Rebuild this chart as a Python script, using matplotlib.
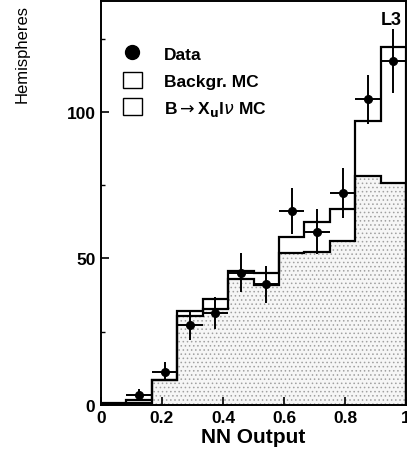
import numpy as np
import matplotlib.pyplot as plt
from matplotlib.lines import Line2D
from matplotlib.patches import Patch

plt.rcParams['font.family'] = ['Liberation Sans', 'DejaVu Sans']
plt.rcParams['hatch.color'] = '#a0a0a0'
plt.rcParams['hatch.linewidth'] = 0.6

# NN output binning (12 bins)
edges = np.linspace(0, 1, 13)
centers = 0.5 * (edges[:-1] + edges[1:])

# shaded MC component and stacked total
bkg_mc = [0, 0.5, 8.6, 30.4, 32.7, 42.9, 41.0, 51.7, 52.3, 56.0, 78.0, 75.9]
total_mc = [0.5, 1.5, 8.6, 32.0, 36.1, 45.6, 45.2, 57.2, 62.3, 66.8, 96.9, 122.2]

# data (bins 2..12)
data = [3.5, 11.3, 27.3, 31.3, 45.2, 41.2, 66.2, 59.1, 72.3, 104.3, 117.4]
data_err = [2.0, 3.3, 5.0, 5.5, 6.6, 6.3, 8.0, 7.7, 8.5, 8.5, 11.0]

fig = plt.figure(figsize=(4.07, 4.56), dpi=100)
ax = fig.add_axes([0.248, 0.110, 0.75, 0.886])

ax.stairs(bkg_mc, edges, fill=True, facecolor='#f6f6f6', hatch='....',
          edgecolor='#a0a0a0', linewidth=0)
ax.stairs(bkg_mc, edges, color='black', linewidth=1.6)
ax.stairs(total_mc, edges, color='black', linewidth=1.6)

halfw = 0.5 * (edges[1] - edges[0])
ax.errorbar(centers[1:], data, xerr=halfw, yerr=data_err, fmt='o', color='black',
            markersize=5.5, elinewidth=1.4, capsize=0)

ax.set_xlim(0, 1)
ax.set_ylim(0, 138)
ax.set_xticks([0, 0.2, 0.4, 0.6, 0.8, 1])
ax.set_xticklabels(['0', '0.2', '0.4', '0.6', '0.8', '1'])
ax.set_yticks([0, 50, 100])
ax.set_yticks([25, 75, 125], minor=True)
ax.tick_params(direction='in', length=6, width=1.2, labelsize=12.5, pad=4)
ax.tick_params(which='minor', direction='in', length=3, width=1.0)
for lab in ax.get_xticklabels() + ax.get_yticklabels():
    lab.set_fontweight('bold')
for s in ax.spines.values():
    s.set_linewidth(1.4)

ax.set_xlabel('NN Output', fontsize=15, fontweight='bold', labelpad=1)
ax.set_ylabel('Hemispheres', fontsize=12)
ax.yaxis.set_label_coords(-0.235, 0.87)

ax.text(0.985, 0.975, 'L3', transform=ax.transAxes, ha='right', va='top',
        fontsize=13, fontweight='bold')

handles = [
    Line2D([], [], marker='o', color='black', linestyle='none', markersize=10),
    Patch(facecolor='white', edgecolor='black', linewidth=1.0),
    Patch(facecolor='white', edgecolor='black', linewidth=1.0),
]
labels = ['Data', 'Backgr. MC', r'B$\rightarrow$X$_\mathbf{u}$l$\nu$ MC']
leg = ax.legend(handles, labels, loc='upper left', bbox_to_anchor=(0.02, 0.93),
                frameon=False, handlelength=1.1, handleheight=1.1,
                handletextpad=1.3, labelspacing=0.55,
                prop={'size': 12.5, 'weight': 'bold'})

fig.savefig('out.png', dpi=100)
